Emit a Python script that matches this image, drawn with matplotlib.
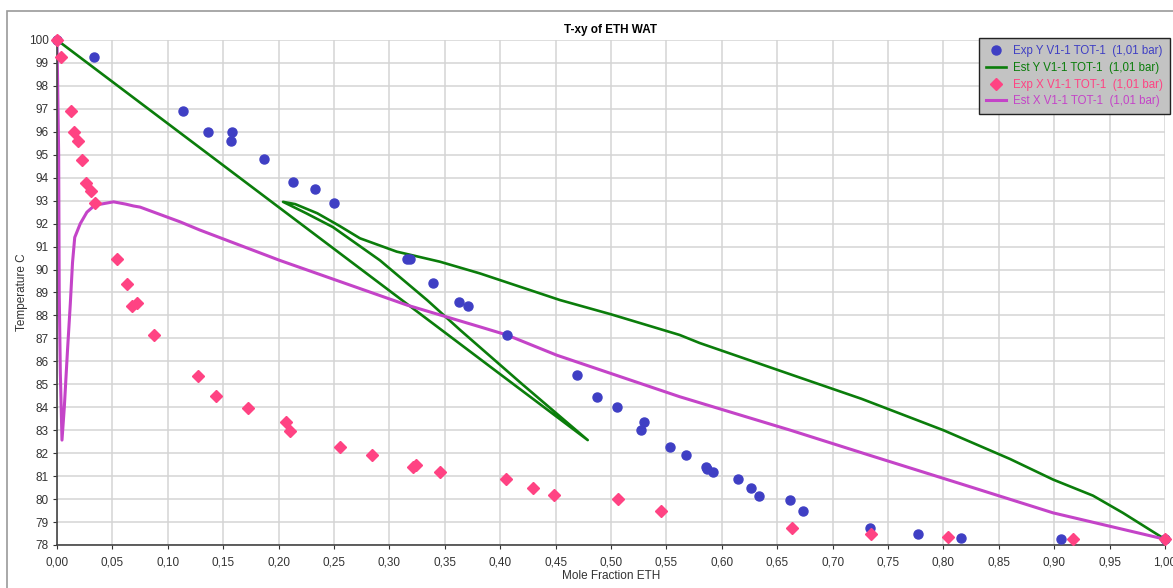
import matplotlib
matplotlib.use("Agg")
import matplotlib.pyplot as plt
from matplotlib.patches import Rectangle
from matplotlib.ticker import FuncFormatter, MultipleLocator

# ── data ──────────────────────────────────────────────────────────────────
exp_y_x = [0.0, 0.033, 0.114, 0.136, 0.158, 0.157, 0.187, 0.213, 0.233, 0.250,
           0.316, 0.319, 0.339, 0.363, 0.371, 0.406, 0.469, 0.487, 0.505, 0.527,
           0.530, 0.553, 0.568, 0.586, 0.587, 0.592, 0.615, 0.626, 0.634, 0.662,
           0.673, 0.734, 0.777, 0.816, 0.906, 1.0]
exp_y_t = [100.0, 99.26, 96.9, 96.0, 96.0, 95.6, 94.8, 93.8, 93.5, 92.9,
           90.46, 90.46, 89.4, 88.6, 88.4, 87.15, 85.4, 84.45, 84.0, 83.0,
           83.37, 82.25, 81.9, 81.41, 81.3, 81.18, 80.87, 80.47, 80.15, 79.97,
           79.47, 78.74, 78.47, 78.32, 78.25, 78.25]

exp_x_x = [0.0, 0.004, 0.0126, 0.015, 0.019, 0.023, 0.026, 0.031, 0.034, 0.054,
           0.0635, 0.068, 0.072, 0.0875, 0.127, 0.1435, 0.172, 0.207, 0.210, 0.255,
           0.284, 0.321, 0.324, 0.346, 0.405, 0.430, 0.449, 0.506, 0.545, 0.663,
           0.735, 0.804, 0.917, 1.0]
exp_x_t = [100.0, 99.27, 96.9, 96.0, 95.6, 94.77, 93.76, 93.43, 92.9, 90.46,
           89.35, 88.4, 88.53, 87.15, 85.36, 84.49, 83.97, 83.36, 82.96, 82.27,
           81.92, 81.4, 81.48, 81.18, 80.87, 80.48, 80.17, 80.0, 79.47, 78.74,
           78.47, 78.34, 78.25, 78.25]

# Est Y: straight run down, back up, small loop at the tip, then the upper branch
est_y_x = [0.0, 0.10, 0.20, 0.30, 0.40, 0.479,
           0.42, 0.364, 0.334, 0.2915, 0.249, 0.225, 0.204,
           0.215, 0.235, 0.255, 0.2735, 0.3066, 0.3457, 0.3818, 0.454,
           0.50, 0.562, 0.58, 0.67, 0.726, 0.80, 0.86, 0.899, 0.935, 0.962, 1.0]
est_y_t = [100.0, 96.36, 92.72, 89.08, 85.44, 82.57,
           85.0, 87.36, 88.67, 90.4, 91.85, 92.45, 92.95,
           92.85, 92.45, 91.9, 91.36, 90.78, 90.34, 89.83, 88.67,
           88.05, 87.15, 86.8, 85.3, 84.37, 83.0, 81.75, 80.85, 80.15, 79.4, 78.25]

est_x_x = [0.0, 0.0015, 0.002, 0.003, 0.0045, 0.0066, 0.0095, 0.012, 0.014,
           0.016, 0.021, 0.027, 0.034, 0.051, 0.062, 0.069, 0.075, 0.111, 0.129,
           0.201, 0.316, 0.382, 0.406, 0.451, 0.562, 0.662, 0.734, 0.82, 0.899, 1.0]
est_x_t = [100.0, 95.0, 89.0, 85.5, 82.57, 84.0, 86.5, 88.5, 90.3,
           91.4, 92.0, 92.5, 92.8, 92.95, 92.85, 92.77, 92.72, 92.08, 91.72,
           90.4, 88.45, 87.5, 87.15, 86.27, 84.46, 83.0, 81.9, 80.6, 79.4, 78.25]

legend_labels = ["Exp Y V1-1 TOT-1  (1,01 bar)", "Est Y V1-1 TOT-1  (1,01 bar)",
                 "Exp X V1-1 TOT-1  (1,01 bar)", "Est X V1-1 TOT-1  (1,01 bar)"]

BLUE = "#3f3fc4"
GREEN = "#0b7d0b"
PINK = "#ff4383"
MAGENTA = "#c444c8"

plt.rcParams["font.family"] = ["Liberation Sans", "DejaVu Sans"]

fig = plt.figure(figsize=(11.73, 5.88), dpi=100)
ax = fig.add_axes([57 / 1173, 43 / 588, 1108 / 1173, 505 / 588])

# outer frame like the original window
fig.patches.append(Rectangle((7 / 1173, -0.1), 1.2, (577 + 58.8) / 588,
                             transform=fig.transFigure, fill=False,
                             edgecolor="#9a9a9a", linewidth=1.2))

l_ey, = ax.plot(est_y_x, est_y_t, color=GREEN, linewidth=1.9, zorder=2)
l_ex, = ax.plot(est_x_x, est_x_t, color=MAGENTA, linewidth=2.2, zorder=2)
m_y, = ax.plot(exp_y_x, exp_y_t, linestyle="none", marker="o", markersize=6.5,
               color=BLUE, zorder=3, clip_on=False)
m_x, = ax.plot(exp_x_x, exp_x_t, linestyle="none", marker="D", markersize=6.5,
               color=PINK, zorder=4, clip_on=False)

ax.set_xlim(0, 1)
ax.set_ylim(78, 100)
ax.xaxis.set_major_locator(MultipleLocator(0.05))
ax.yaxis.set_major_locator(MultipleLocator(1))
ax.xaxis.set_major_formatter(FuncFormatter(lambda v, p: f"{v:.2f}".replace(".", ",")))
ax.yaxis.set_major_formatter(FuncFormatter(lambda v, p: f"{v:.0f}"))
ax.tick_params(labelsize=8.5, length=3, width=0.8, colors="#333333")
ax.tick_params(axis="x", pad=5)
ax.tick_params(axis="y", pad=3)
ax.grid(color="#d4d4d4", linewidth=1.1)
ax.set_axisbelow(True)
for side in ("top", "right"):
    ax.spines[side].set_visible(False)
for side in ("left", "bottom"):
    ax.spines[side].set_color("#444444")
    ax.spines[side].set_linewidth(1.2)

ax.set_title("T-xy of ETH WAT", fontsize=8.5, fontweight="bold",
             family=["Liberation Sans Narrow", "Liberation Sans", "DejaVu Sans"], pad=5)
ax.set_xlabel("Mole Fraction ETH", fontsize=8.5, color="#333333")
ax.set_ylabel("Temperature C", fontsize=8.5, color="#333333")
ax.xaxis.set_label_coords(0.5, -0.05)
ax.yaxis.set_label_coords(-0.026, 0.5)

leg = ax.legend([m_y, l_ey, m_x, l_ex], legend_labels, loc="upper right",
                bbox_to_anchor=(1.0045, 1.004), fontsize=8.3, frameon=True,
                fancybox=False, framealpha=1, borderpad=0.6, labelspacing=0.42,
                handlelength=1.8, handletextpad=0.6, borderaxespad=0)
leg.get_frame().set_facecolor("#c3c3c3")
leg.get_frame().set_edgecolor("#222222")
for txt, col in zip(leg.get_texts(), [BLUE, GREEN, PINK, MAGENTA]):
    txt.set_color(col)

fig.savefig("out.png", dpi=100)
